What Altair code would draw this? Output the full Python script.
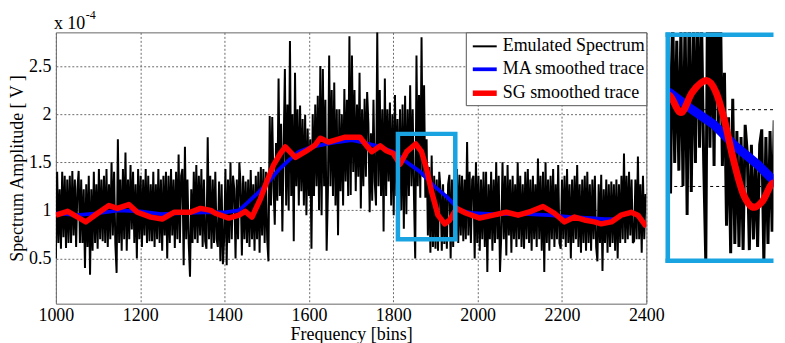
import altair as alt
import pandas as pd

FONT = "Liberation Serif"
SERIES = ["Emulated Spectrum", "MA smoothed trace", "SG smoothed trace"]
COLORS = ["#000000", "#0000ff", "#ff0000"]
MAIN_WIDTHS = [2.0, 5.5, 4.5]
INSET_WIDTHS = [3, 9, 7]
CYAN = "#1aa3e1"

# Emulated spectrum, one value every 3 bins from 1000 to 2398 (x 1e-4 V); one row = 30 bins
black_start, black_step = 1000, 3
black_vals = [
    0.50, 1.40, 0.66, 1.22, 0.60, 1.40, 0.72, 1.36, 0.61, 1.32,   # 1000
    0.66, 1.36, 0.66, 1.41, 0.74, 1.32, 0.62, 1.22, 1.41, 0.66,   # 1030
    1.32, 0.66, 1.22, 0.40, 1.27, 0.62, 1.36, 0.33, 1.22, 0.58,   # 1060
    1.40, 0.66, 1.27, 0.60, 1.43, 0.70, 1.32, 0.68, 1.36, 0.66,   # 1090
    1.43, 0.62, 1.27, 0.70, 1.50, 0.74, 1.40, 0.65, 0.35, 1.74,   # 1120
    0.66, 1.32, 0.58, 1.43, 0.70, 1.60, 0.58, 1.32, 0.70, 1.47,   # 1150
    0.80, 1.40, 0.66, 1.27, 0.50, 1.43, 0.70, 1.36, 0.62, 1.32,   # 1180
    0.74, 1.43, 0.66, 1.36, 0.68, 1.27, 0.68, 1.40, 0.62, 1.27,   # 1210
    0.70, 1.43, 0.66, 1.32, 0.58, 1.36, 0.74, 1.40, 0.50, 1.36,   # 1240
    0.66, 1.43, 0.74, 1.32, 0.61, 1.40, 0.70, 1.58, 0.66, 1.36,   # 1270
    1.43, 0.43, 1.66, 0.70, 1.32, 0.66, 0.31, 1.22, 0.66, 1.40,   # 1300
    0.70, 1.47, 0.66, 1.36, 0.74, 1.43, 0.62, 1.32, 0.68, 0.60,   # 1330
    1.76, 0.70, 1.36, 0.60, 1.32, 0.66, 1.40, 0.70, 0.62, 1.30,   # 1360
    0.47, 1.27, 0.44, 0.70, 1.43, 0.43, 1.32, 0.66, 1.50, 0.70,   # 1390
    1.36, 1.22, 0.50, 1.32, 0.70, 1.50, 1.27, 0.53, 1.36, 0.70,   # 1420
    1.30, 0.66, 1.32, 0.62, 1.42, 0.70, 1.27, 0.58, 1.36, 0.70,   # 1450
    1.40, 0.56, 1.45, 0.74, 1.43, 0.66, 1.40, 0.70, 0.47, 1.98,   # 1480
    1.05, 1.97, 1.25, 0.85, 1.70, 1.10, 2.37, 1.15, 1.90, 0.78,   # 1510
    1.65, 2.47, 1.05, 2.10, 1.00, 2.76, 1.15, 2.00, 0.68, 2.43,   # 1540
    1.25, 2.05, 1.05, 2.09, 1.20, 1.95, 1.05, 1.99, 0.95, 1.85,   # 1570
    1.15, 1.74, 0.60, 2.00, 1.15, 2.10, 1.25, 2.19, 1.00, 2.50,   # 1600
    0.95, 2.47, 1.25, 2.15, 0.58, 1.20, 2.61, 1.25, 2.25, 1.15,   # 1630
    2.33, 1.05, 2.05, 0.74, 2.05, 1.20, 2.00, 1.05, 2.26, 1.30,   # 1660
    2.15, 1.15, 2.81, 1.16, 2.61, 1.40, 2.25, 1.20, 2.10, 1.35,   # 1690
    2.43, 1.02, 2.05, 1.25, 2.16, 1.35, 2.23, 1.90, 0.98, 1.80,   # 1720
    1.10, 2.15, 1.30, 1.05, 2.85, 1.25, 2.25, 1.15, 2.05, 0.78,   # 1750
    2.37, 1.15, 2.05, 1.30, 2.12, 1.05, 2.00, 0.95, 2.20, 1.15,   # 1780
    1.95, 1.10, 2.05, 1.00, 2.10, 0.81, 2.19, 0.96, 2.05, 1.15,   # 1810
    2.30, 1.25, 2.05, 1.15, 0.50, 2.61, 1.25, 2.20, 1.13, 2.80,   # 1840
    1.35, 2.30, 1.13, 1.74, 0.74, 1.45, 0.56, 1.57, 0.62, 1.36,   # 1870
    0.60, 1.32, 0.58, 1.40, 1.22, 0.58, 1.27, 0.65, 1.17, 0.60,   # 1900
    1.27, 1.37, 0.50, 1.32, 0.62, 1.36, 0.70, 1.43, 0.66, 1.37,   # 1930
    0.74, 1.36, 0.68, 1.32, 0.70, 1.71, 0.74, 1.40, 0.66, 1.32,   # 1960
    1.36, 0.50, 1.50, 0.66, 1.36, 0.58, 1.32, 0.70, 1.40, 0.62,   # 1990
    1.40, 0.36, 1.27, 0.70, 1.40, 0.58, 1.32, 0.66, 1.50, 0.70,   # 2020
    1.36, 0.36, 0.74, 1.50, 0.70, 1.36, 0.53, 1.47, 0.74, 1.32,   # 2050
    0.56, 1.36, 0.70, 1.27, 0.62, 1.50, 0.70, 1.36, 0.62, 1.27,   # 2080
    0.60, 1.40, 0.70, 1.43, 0.66, 1.32, 0.58, 1.36, 0.70, 1.27,   # 2110
    0.62, 1.54, 0.70, 1.36, 0.58, 1.40, 0.36, 1.50, 0.66, 1.32,   # 2140
    0.58, 1.36, 0.70, 1.43, 0.62, 1.27, 0.70, 1.47, 0.66, 0.60,   # 2170
    1.32, 0.70, 1.36, 0.62, 1.43, 0.66, 1.27, 0.50, 1.32, 0.66,   # 2200
    1.36, 0.70, 1.47, 0.62, 1.27, 0.56, 1.32, 0.66, 1.36, 0.58,   # 2230
    1.40, 0.66, 1.27, 0.58, 1.32, 0.70, 1.36, 0.62, 0.47, 1.27,   # 2260
    0.66, 1.37, 0.37, 1.22, 0.66, 1.32, 0.56, 1.27, 0.62, 1.30,   # 2290
    0.66, 1.27, 0.58, 1.32, 0.50, 1.27, 0.66, 1.36, 0.70, 1.59,   # 2320
    0.66, 1.36, 0.70, 1.40, 0.74, 1.32, 0.66, 0.68, 1.32, 0.70,   # 2350
    1.56, 0.70, 1.27, 0.56, 1.36, 0.70, 1.17,                     # 2380
]
black_bins = [black_start + black_step * i for i in range(len(black_vals))]

# Moving-average smoothed trace
ma_bins = [1000, 1050, 1100, 1150, 1200, 1250, 1300, 1350, 1400, 1434, 1457, 1481, 1505, 1528, 1552, 1576,
           1607, 1655, 1702, 1733, 1761, 1800, 1832, 1864, 1895, 1927, 1958, 1990, 2037, 2068, 2120, 2170,
           2222, 2270, 2301, 2325]
ma_vals = [0.97, 0.95, 0.97, 1.00, 0.99, 0.96, 0.97, 0.98, 0.98, 1.00, 1.09, 1.19, 1.30, 1.42, 1.52, 1.61,
           1.66, 1.70, 1.73, 1.70, 1.67, 1.61, 1.50, 1.40, 1.26, 1.14, 1.00, 0.97, 0.96, 0.96, 0.96, 0.95,
           0.93, 0.92, 0.91, 0.91]

# Savitzky-Golay smoothed trace
sg_bins = [1000, 1028, 1059, 1071, 1099, 1126, 1146, 1173, 1193, 1225, 1252, 1280, 1319, 1343, 1367, 1378,
           1410, 1434, 1449, 1465, 1485, 1501, 1516, 1532, 1544, 1568, 1591, 1615, 1627, 1646, 1686, 1721,
           1737, 1749, 1769, 1784, 1800, 1816, 1832, 1853, 1867, 1879, 1891, 1906, 1922, 1934, 1950, 1973,
           2005, 2037, 2068, 2096, 2127, 2155, 2182, 2206, 2230, 2253, 2277, 2293, 2317, 2340, 2364, 2380, 2400]
sg_vals = [0.95, 0.99, 0.91, 0.88, 0.97, 1.05, 1.02, 1.06, 0.98, 0.93, 0.91, 0.98, 0.98, 1.02, 1.00, 0.97,
           0.92, 0.95, 0.99, 0.93, 1.12, 1.31, 1.47, 1.59, 1.66, 1.55, 1.61, 1.68, 1.75, 1.71, 1.76, 1.76,
           1.67, 1.61, 1.67, 1.62, 1.59, 1.48, 1.61, 1.69, 1.61, 1.43, 1.19, 0.95, 0.86, 0.90, 1.02, 0.97,
           0.92, 0.95, 0.98, 0.95, 0.99, 1.04, 0.97, 0.88, 0.93, 0.90, 0.88, 0.86, 0.88, 0.95, 0.98, 0.95, 0.83]

x_ticks = [1000, 1200, 1400, 1600, 1800, 2000, 2200, 2400]
y_ticks = [0.5, 1, 1.5, 2, 2.5]
x_domain = [1000, 2400]
y_domain = [0.03, 2.85]
box_bin, box_bin2 = [1811], [1947]
box_val, box_val2 = [0.70], [1.795]
inset_x_domain = [1797, 1950]
inset_y_domain = [0.497, 2.005]
inset_grid = [1.0, 1.5]

df = pd.concat([
    pd.DataFrame({"bin": black_bins, "val": black_vals, "series": SERIES[0]}),
    pd.DataFrame({"bin": ma_bins, "val": ma_vals, "series": SERIES[1]}),
    pd.DataFrame({"bin": sg_bins, "val": sg_vals, "series": SERIES[2]}),
], ignore_index=True)
box_df = pd.DataFrame({"bin": box_bin, "bin2": box_bin2, "val": box_val, "val2": box_val2})
one = pd.DataFrame({"k": [0]})

xenc = alt.X("bin:Q", scale=alt.Scale(domain=x_domain, nice=False, zero=False),
             axis=alt.Axis(values=x_ticks, format="d", title="Frequency [bins]", grid=True, labelFlush=False,
                           ticks=False, domain=False, labelPadding=3, titlePadding=1))
yenc = alt.Y("val:Q", scale=alt.Scale(domain=y_domain, nice=False, zero=False),
             axis=alt.Axis(values=y_ticks, format="~g", title="Spectrum Amplitude [ V ]", grid=True,
                           labelFlush=False, ticks=False, domain=False, labelPadding=5, titlePadding=1.5))
leg = alt.Legend(title=None, labelExpr="datum.label + '\u00a0'")
cenc = alt.Color("series:N", scale=alt.Scale(domain=SERIES, range=COLORS), legend=leg)
wenc = alt.StrokeWidth("series:N", scale=alt.Scale(domain=SERIES, range=MAIN_WIDTHS), legend=leg)


def main_line(name, **kw):
    return (alt.Chart(df).transform_filter(alt.datum.series == name)
            .mark_line(clip=True, **kw)
            .encode(x=xenc, y=yenc, color=cenc, strokeWidth=wenc))


main_black = main_line(SERIES[0], strokeJoin="bevel")
main_blue = main_line(SERIES[1], strokeJoin="round")
main_red = main_line(SERIES[2], strokeJoin="round")
main_box = alt.Chart(box_df).mark_rect(filled=False, stroke=CYAN, strokeWidth=4.5).encode(
    x=xenc, x2=alt.X2("bin2:Q"), y=yenc, y2=alt.Y2("val2:Q"))
exp_base = alt.Chart(one).mark_text(text="x 10", align="left", baseline="alphabetic", font=FONT,
                                    fontSize=18, color="black").encode(x=alt.value(-2), y=alt.value(-3))
exp_sup = alt.Chart(one).mark_text(text="-4", align="left", baseline="alphabetic", font=FONT,
                                   fontSize=12, color="black").encode(x=alt.value(30), y=alt.value(-13))

main = alt.layer(main_black, main_blue, main_red, main_box, exp_base, exp_sup).properties(
    width=592, height=272, view=alt.ViewBackground(stroke="#666666"))

ix = alt.X("bin:Q", scale=alt.Scale(domain=inset_x_domain, nice=False, zero=False), axis=None)
iy = alt.Y("val:Q", scale=alt.Scale(domain=inset_y_domain, nice=False, zero=False),
           axis=alt.Axis(values=inset_grid, labels=False, ticks=False, domain=False, title="",
                         grid=True, gridDash=[3, 3], gridColor="#000000"))


def inset_line(i, **kw):
    return (alt.Chart(df).transform_filter(alt.datum.series == SERIES[i])
            .mark_line(clip=True, color=COLORS[i], strokeWidth=INSET_WIDTHS[i], **kw)
            .encode(x=ix, y=iy))


IW, IH = 106, 231
inset = alt.layer(
    inset_line(0, strokeJoin="bevel"),
    inset_line(1, strokeJoin="round"),
    inset_line(2, strokeJoin="round", interpolate="monotone"),
    alt.Chart(one).mark_rule(color=CYAN, strokeWidth=4.6).encode(x=alt.value(0), y=alt.value(0), y2=alt.value(IH)),
    alt.Chart(one).mark_rule(color=CYAN, strokeWidth=4.6).encode(x=alt.value(-2.3), x2=alt.value(IW), y=alt.value(2.4)),
    alt.Chart(one).mark_rule(color=CYAN, strokeWidth=4.6).encode(x=alt.value(-2.3), x2=alt.value(IW), y=alt.value(IH - 2)),
).properties(width=IW, height=IH, view=alt.ViewBackground(stroke="transparent"))

chart = (alt.hconcat(main, inset, spacing=21.5, bounds="flush")
         .resolve_scale(x="independent", y="independent", color="independent", strokeWidth="independent")
         .resolve_legend(color="independent", strokeWidth="independent")
         .properties(padding={"left": 0, "right": 0, "top": 0, "bottom": 0}, background="white")
         .configure_axis(labelFont=FONT, titleFont=FONT, labelFontSize=18, titleFontSize=18,
                         labelColor="black", titleColor="black", titleFontWeight="normal",
                         gridColor="#6b6b6b", gridDash=[2, 2], gridOpacity=1, gridWidth=1)
         .configure_legend(orient="top-right", offset=0, padding=1, fillColor="white", strokeColor="#555555",
                           labelFont=FONT, labelFontSize=18, labelColor="black", symbolType="stroke",
                           symbolSize=576, symbolOffset=3, rowPadding=-6, labelOffset=3, labelLimit=300)
         .configure_view(strokeWidth=1))

chart.save("out.html", embed_options={"renderer": "svg", "actions": False})
